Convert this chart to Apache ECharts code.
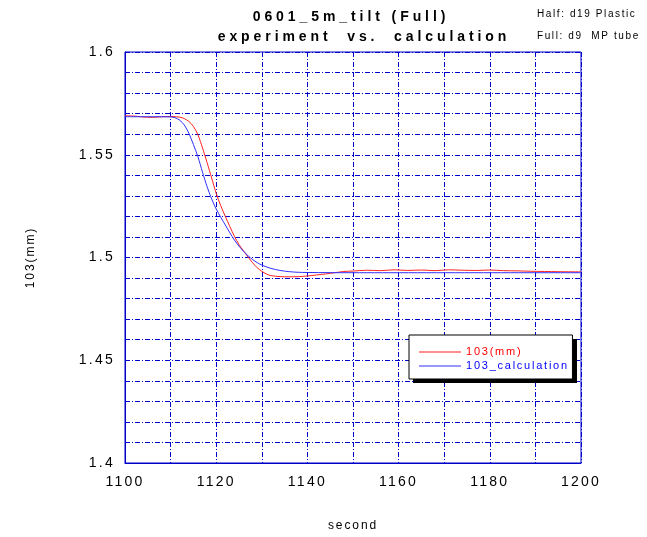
<!DOCTYPE html>
<html>
<head>
<meta charset="utf-8">
<script src="https://cdn.jsdelivr.net/npm/echarts@6/dist/echarts.min.js"></script>
<style>
  html, body { margin: 0; padding: 0; background: #fff; }
  #chart { width: 647px; height: 537px; }
</style>
</head>
<body>
<div id="chart"></div>
<script>
// Measured displacement (103, mm) over time
const measTime = [1100,1102,1104,1106,1108,1110,1112,1113,1114,1115,1116,1117,1118,1119,1120,1121,1122,1123,1124,1125,1126,1127,1128,1129,1130,1131,1132,1134,1136,1138,1140,1142,1144,1146,1148,1150,1153,1156,1159,1162,1165,1168,1171,1174,1177,1180,1183,1186,1189,1192,1195,1200];
const measValue = [1.5690,1.5688,1.5684,1.5682,1.5685,1.5686,1.5683,1.5676,1.5662,1.5638,1.5597,1.5533,1.5462,1.5387,1.5312,1.5252,1.5200,1.5150,1.5103,1.5063,1.5032,1.5002,1.4974,1.4950,1.4933,1.4920,1.4912,1.4907,1.4906,1.4907,1.4910,1.4915,1.4920,1.4926,1.4932,1.4934,1.4938,1.4936,1.4940,1.4937,1.4939,1.4936,1.4940,1.4938,1.4937,1.4939,1.4936,1.4935,1.4933,1.4932,1.4931,1.4930];

// Calculated displacement
const calcTime = [1100,1105,1110,1111,1112,1113,1114,1115,1116,1117,1118,1119,1120,1121,1122,1123,1124,1125,1126,1127,1128,1129,1130,1132,1134,1136,1138,1140,1150,1200];
const calcValue = [1.5685,1.5685,1.5684,1.5680,1.5668,1.5645,1.5605,1.5550,1.5490,1.5415,1.5345,1.5285,1.5236,1.5196,1.5158,1.5120,1.5085,1.5055,1.5030,1.5008,1.4990,1.4975,1.4963,1.4947,1.4937,1.4931,1.4928,1.4927,1.4926,1.4926];

const seriesNames = ['103(mm)', '103_calculation'];
const xTickLabels = ['1100', '1120', '1140', '1160', '1180', '1200'];
const yTickLabels = ['1.4', '1.45', '1.5', '1.55', '1.6'];

const gridBlue = '#0000c8';
const font = 'Liberation Sans, Arial, Helvetica, sans-serif';

// Tracked-out lettering: canvas letter spacing scaled with the font size
(function () {
  const proto = CanvasRenderingContext2D.prototype;
  const origFill = proto.fillText;
  proto.fillText = function (text, x, y, maxWidth) {
    const m = /(\d+(?:\.\d+)?)px/.exec(this.font);
    const size = m ? parseFloat(m[1]) : 12;
    const ratio = /bold|700/.test(this.font) ? 0.28 : 0.16;
    if ('letterSpacing' in this) this.letterSpacing = (size * ratio).toFixed(2) + 'px';
    return maxWidth === undefined ? origFill.call(this, text, x, y) : origFill.call(this, text, x, y, maxWidth);
  };
})();

// Legend box geometry (drop shadow sits behind it)
const legendBox = { left: 409, top: 335, width: 164, height: 44, shadow: 4 };

const chart = echarts.init(document.getElementById('chart'));
chart.setOption({
  animation: false,
  backgroundColor: '#ffffff',
  title: [
    { text: '0601_5m_tilt (Full)', left: 351, top: 10, padding: 0, textAlign: 'center',
      textStyle: { fontFamily: font, fontWeight: 'bold', fontSize: 14, color: '#000' } },
    { text: 'experiment  vs.  calculation', left: 364, top: 30, padding: 0, textAlign: 'center',
      textStyle: { fontFamily: font, fontWeight: 'bold', fontSize: 14, color: '#000' } },
    { text: 'Half: d19 Plastic', left: 537, top: 9, padding: 0,
      textStyle: { fontFamily: font, fontWeight: 'normal', fontSize: 10, color: '#000' } },
    { text: 'Full: d9  MP tube', left: 537, top: 31, padding: 0,
      textStyle: { fontFamily: font, fontWeight: 'normal', fontSize: 10, color: '#000' } }
  ],
  graphic: [{
    type: 'rect', z: 5,
    shape: {
      x: legendBox.left + legendBox.shadow, y: legendBox.top + legendBox.shadow,
      width: legendBox.width, height: legendBox.height
    },
    style: { fill: '#000' }
  }],
  grid: { left: 125, right: 66, top: 52, bottom: 74, show: true, borderColor: gridBlue, borderWidth: 1 },
  legend: {
    left: legendBox.left, top: legendBox.top, z: 10,
    orient: 'vertical',
    icon: 'rect',
    itemWidth: 42, itemHeight: 1, itemGap: 0,
    padding: [10, 30, 6, 10],
    backgroundColor: '#fff',
    borderColor: '#000', borderWidth: 1,
    data: [
      { name: seriesNames[0], textStyle: { color: '#ff0000' } },
      { name: seriesNames[1], textStyle: { color: '#0000ff' } }
    ],
    textStyle: { fontFamily: font, fontSize: 11, lineHeight: 14, padding: [0, 0, 0, 0] }
  },
  xAxis: {
    type: 'value', min: 1100, max: 1200, interval: 10,
    name: 'second', nameLocation: 'middle', nameGap: 57,
    nameTextStyle: { fontFamily: font, fontSize: 12, color: '#000' },
    axisLine: { show: true, lineStyle: { color: gridBlue } },
    axisTick: { show: false },
    axisLabel: {
      fontFamily: font, fontSize: 14, color: '#000', margin: 12,
      formatter: v => xTickLabels.includes(String(v)) ? String(v) : ''
    },
    splitLine: { show: true, lineStyle: { color: gridBlue, type: [5, 2, 1, 2], width: 1 } }
  },
  yAxis: {
    type: 'value', min: 1.4, max: 1.6, interval: 0.01,
    name: '103(mm)', nameLocation: 'middle', nameGap: 88, nameRotate: 90,
    nameTextStyle: { fontFamily: font, fontSize: 12, color: '#000' },
    axisLine: { show: true, lineStyle: { color: gridBlue } },
    axisTick: { show: false },
    axisLabel: {
      fontFamily: font, fontSize: 14, color: '#000', margin: 10,
      formatter: v => {
        const s = String(parseFloat(v.toFixed(2)));
        return yTickLabels.includes(s) ? s : '';
      }
    },
    splitLine: { show: true, lineStyle: { color: gridBlue, type: [5, 2, 1, 2], width: 1 } }
  },
  series: [
    {
      name: seriesNames[0], type: 'line', symbol: 'none', smooth: 0.3,
      lineStyle: { color: '#ff2020', width: 1 }, itemStyle: { color: '#ff2020' },
      data: measTime.map((t, i) => [t, measValue[i]]), z: 3
    },
    {
      name: seriesNames[1], type: 'line', symbol: 'none', smooth: 0.3,
      lineStyle: { color: '#3030ff', width: 1 }, itemStyle: { color: '#3030ff' },
      data: calcTime.map((t, i) => [t, calcValue[i]]), z: 4
    }
  ]
});
</script>
</body>
</html>
